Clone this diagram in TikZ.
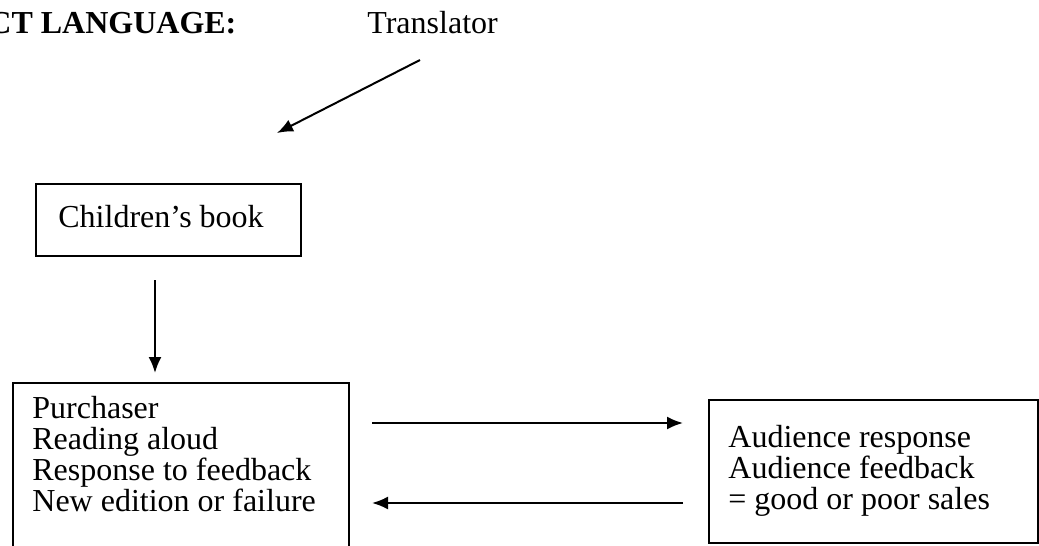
\documentclass[tikz,border=0pt]{standalone}
\usepackage{fontspec}
\setmainfont{Liberation Serif}
\usetikzlibrary{arrows.meta}
\begin{document}
\begin{tikzpicture}[x=0.5pt,y=-0.5pt,
  box/.style={draw,line width=1pt,inner sep=0pt,anchor=north west},
  txt/.style={inner sep=0pt,align=left,font=\fontsize{16}{15.5}\selectfont},
  arr/.style={line width=1pt,-{Latex[length=8pt,width=6.5pt]}}]
  \useasboundingbox (0,0) rectangle (1039,546);
  \node[txt,anchor=base west,font=\bfseries\fontsize{16}{15.5}\selectfont] (lang) at (-12,33) {CT LANGUAGE:};
  \node[txt,anchor=base west] (transl) at (367,33) {Translator};
  \coordinate (trtail) at (420,60);
  \coordinate (trhead) at (277,133);
  \draw[arr] (trtail) -- (trhead);
  % book
  \node[box,minimum width=132.5pt,minimum height=36pt] (book) at (35,183) {};
  \node[txt,anchor=base west] (booktxt) at (58,227) {Children’s book};
  \coordinate (bktail) at (155,280);
  \coordinate (bkhead) at (155,373);
  \draw[arr] (bktail) -- (bkhead);
  % purchaser and audience
  \node[box,minimum width=168pt,minimum height=89pt] (purch) at (12,382) {};
  \node[txt,anchor=north west] (purchtxt) at (32,396) {Purchaser\\Reading aloud\\Response to feedback\\New edition or failure};
  \node[box,minimum width=164.5pt,minimum height=71.5pt] (aud) at (708,399) {};
  \node[txt,anchor=north west] (audtxt) at (728,425) {Audience response\\Audience feedback\\= good or poor sales};
  \coordinate (outl) at (372,423);
  \coordinate (outr) at (683,423);
  \coordinate (backr) at (683,503);
  \coordinate (backl) at (372,503);
  \draw[arr] (outl) -- (outr);
  \draw[arr] (backr) -- (backl);
\end{tikzpicture}
\end{document}
